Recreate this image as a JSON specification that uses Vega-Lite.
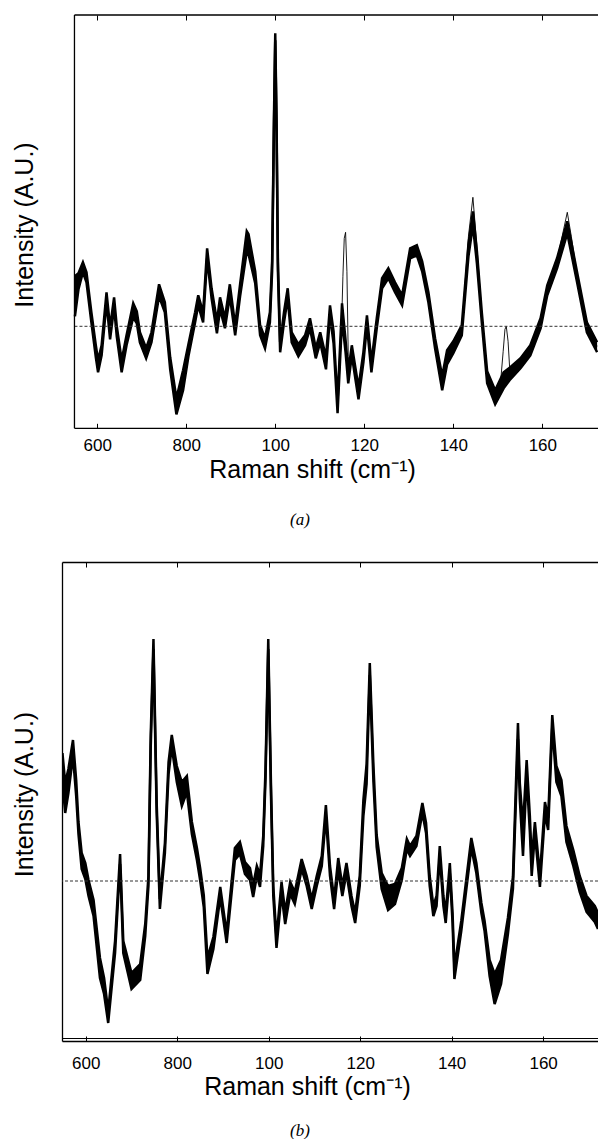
{
  "$schema": "https://vega.github.io/schema/vega-lite/v6.json",
  "padding": {"left": 12, "top": 14, "right": 0, "bottom": 0},
  "background": "white",
  "config": {
    "view": {"stroke": null},
    "axis": {"domainColor": "#000", "tickColor": "#000", "domainWidth": 1.3, "tickWidth": 1, "grid": false,
             "labelFont": "Liberation Sans", "labelFontSize": 17, "labelColor": "#000",
             "titleFont": "Liberation Sans", "titleFontSize": 25, "titleFontWeight": "normal", "titleColor": "#000",
             "labelFlush": false, "labelOverlap": false}
  },
  "datasets": {
    "a_band": [
      {"x":550,"hi":50,"lo":10},{"x":558,"hi":53,"lo":37},{"x":568,"hi":64,"lo":54},{"x":576,"hi":54,"lo":44},
      {"x":587,"hi":14,"lo":4},{"x":597,"hi":-19,"lo":-31},{"x":602,"hi":-34,"lo":-46},{"x":610,"hi":-19,"lo":-29},
      {"x":621,"hi":34,"lo":24},{"x":629,"hi":-1,"lo":-13},{"x":638,"hi":29,"lo":19},{"x":644,"hi":0,"lo":-10},
      {"x":655,"hi":-34,"lo":-46},{"x":666,"hi":-9,"lo":-19},{"x":681,"hi":23,"lo":9},{"x":689,"hi":15,"lo":3},
      {"x":696,"hi":-6,"lo":-16},{"x":710,"hi":-22,"lo":-32},{"x":722,"hi":-6,"lo":-16},{"x":739,"hi":42,"lo":30},
      {"x":752,"hi":24,"lo":14},{"x":764,"hi":-31,"lo":-43},{"x":778,"hi":-72,"lo":-88},{"x":793,"hi":-44,"lo":-64},
      {"x":805,"hi":-18,"lo":-30},{"x":820,"hi":14,"lo":4},{"x":827,"hi":31,"lo":21},{"x":838,"hi":14,"lo":4},
      {"x":847,"hi":78,"lo":68},{"x":857,"hi":38,"lo":28},{"x":869,"hi":5,"lo":-7},{"x":876,"hi":29,"lo":17},
      {"x":887,"hi":8,"lo":-2},{"x":898,"hi":42,"lo":30},{"x":910,"hi":1,"lo":-9},{"x":921,"hi":42,"lo":30},
      {"x":936,"hi":95,"lo":75},{"x":940,"hi":92,"lo":72},{"x":955,"hi":55,"lo":43},{"x":966,"hi":1,"lo":-9},
      {"x":977,"hi":-12,"lo":-22},{"x":988,"hi":14,"lo":4},{"x":993,"hi":65,"lo":55},{"x":997,"hi":205,"lo":195},
      {"x":1000,"hi":293,"lo":286},{"x":1003,"hi":205,"lo":195},{"x":1006,"hi":65,"lo":55},{"x":1011,"hi":-16,"lo":-26},
      {"x":1020,"hi":15,"lo":5},{"x":1028,"hi":38,"lo":28},{"x":1037,"hi":-6,"lo":-16},{"x":1052,"hi":-18,"lo":-30},
      {"x":1067,"hi":-9,"lo":-19},{"x":1078,"hi":8,"lo":-2},{"x":1091,"hi":-22,"lo":-32},{"x":1101,"hi":-6,"lo":-16},
      {"x":1114,"hi":-31,"lo":-43},{"x":1123,"hi":21,"lo":11},{"x":1131,"hi":-5,"lo":-17},{"x":1140,"hi":-75,"lo":-87},
      {"x":1150,"hi":23,"lo":7},{"x":1158,"hi":-14,"lo":-26},{"x":1164,"hi":-45,"lo":-57},{"x":1172,"hi":-19,"lo":-29},
      {"x":1187,"hi":-61,"lo":-73},{"x":1198,"hi":-26,"lo":-36},{"x":1206,"hi":11,"lo":1},{"x":1216,"hi":-36,"lo":-46},
      {"x":1228,"hi":8,"lo":-2},{"x":1240,"hi":48,"lo":38},{"x":1254,"hi":58,"lo":48},{"x":1269,"hi":44,"lo":34},
      {"x":1285,"hi":31,"lo":21},{"x":1303,"hi":78,"lo":68},{"x":1318,"hi":81,"lo":71},{"x":1330,"hi":65,"lo":55},
      {"x":1344,"hi":34,"lo":24},{"x":1359,"hi":-12,"lo":-22},{"x":1375,"hi":-50,"lo":-64},{"x":1386,"hi":-24,"lo":-38},
      {"x":1400,"hi":-15,"lo":-27},{"x":1419,"hi":1,"lo":-9},{"x":1434,"hi":82,"lo":70},{"x":1444,"hi":115,"lo":101},
      {"x":1453,"hi":75,"lo":63},{"x":1464,"hi":14,"lo":4},{"x":1476,"hi":-45,"lo":-57},{"x":1494,"hi":-64,"lo":-78},
      {"x":1513,"hi":-46,"lo":-62},{"x":1528,"hi":-41,"lo":-53},{"x":1551,"hi":-32,"lo":-42},{"x":1573,"hi":-19,"lo":-29},
      {"x":1596,"hi":8,"lo":-2},{"x":1611,"hi":41,"lo":31},{"x":1633,"hi":68,"lo":58},{"x":1656,"hi":105,"lo":93},
      {"x":1678,"hi":54,"lo":44},{"x":1700,"hi":4,"lo":-6},{"x":1723,"hi":-16,"lo":-26}
    ],
    "a_out": [
      {"x":1090,"v":-27},{"x":1100,"v":-11},{"x":1114,"v":-37},{"x":1123,"v":16},{"x":1131,"v":-11},{"x":1140,"v":-80},
      {"x":1148,"v":-15},{"x":1152,"v":50},{"x":1155,"v":88},{"x":1158,"v":94},{"x":1161,"v":55},{"x":1164,"v":-30},
      {"x":1168,"v":-45},{"x":1172,"v":-24},{"x":1187,"v":-67},{"x":1198,"v":-31},{"x":1206,"v":6},{"x":1216,"v":-41},
      {"x":1228,"v":3},{"x":1240,"v":46},{"x":1254,"v":56},{"x":1269,"v":42},{"x":1285,"v":28},{"x":1303,"v":76},
      {"x":1318,"v":79},{"x":1330,"v":62},{"x":1344,"v":30},{"x":1359,"v":-15},{"x":1375,"v":-55},{"x":1386,"v":-28},
      {"x":1400,"v":-18},{"x":1419,"v":-2},{"x":1434,"v":90},{"x":1444,"v":129},{"x":1453,"v":80},{"x":1464,"v":12},
      {"x":1476,"v":-50},{"x":1494,"v":-70},{"x":1505,"v":-62},{"x":1512,"v":-25},{"x":1516,"v":-3},{"x":1519,"v":0},
      {"x":1523,"v":-15},{"x":1527,"v":-45},{"x":1535,"v":-45},{"x":1551,"v":-35},{"x":1573,"v":-22},{"x":1596,"v":5},
      {"x":1611,"v":38},{"x":1633,"v":66},{"x":1656,"v":114},{"x":1665,"v":90},{"x":1678,"v":52},{"x":1700,"v":0},{"x":1723,"v":-20}
    ],
    "b_band": [
      {"x":549,"hi":128,"lo":98},{"x":555,"hi":98,"lo":68},{"x":562,"hi":112,"lo":88},{"x":572,"hi":141,"lo":125},
      {"x":579,"hi":101,"lo":85},{"x":584,"hi":59,"lo":47},{"x":591,"hi":28,"lo":12},{"x":599,"hi":18,"lo":2},
      {"x":606,"hi":1,"lo":-15},{"x":617,"hi":-19,"lo":-35},{"x":631,"hi":-77,"lo":-97},{"x":640,"hi":-97,"lo":-113},
      {"x":649,"hi":-130,"lo":-142},{"x":664,"hi":-60,"lo":-72},{"x":675,"hi":27,"lo":17},{"x":682,"hi":-60,"lo":-72},
      {"x":700,"hi":-92,"lo":-108},{"x":719,"hi":-83,"lo":-99},{"x":730,"hi":-43,"lo":-55},{"x":737,"hi":5,"lo":-5},
      {"x":742,"hi":146,"lo":134},{"x":748,"hi":242,"lo":232},{"x":755,"hi":78,"lo":68},{"x":762,"hi":-18,"lo":-28},
      {"x":773,"hi":38,"lo":28},{"x":781,"hi":119,"lo":107},{"x":788,"hi":146,"lo":134},{"x":799,"hi":115,"lo":99},
      {"x":810,"hi":99,"lo":75},{"x":821,"hi":105,"lo":89},{"x":832,"hi":59,"lo":47},{"x":843,"hi":33,"lo":21},
      {"x":850,"hi":13,"lo":1},{"x":858,"hi":-14,"lo":-26},{"x":866,"hi":-77,"lo":-93},{"x":879,"hi":-56,"lo":-68},
      {"x":894,"hi":-6,"lo":-16},{"x":908,"hi":-52,"lo":-62},{"x":926,"hi":33,"lo":21},{"x":937,"hi":39,"lo":27},
      {"x":948,"hi":19,"lo":7},{"x":959,"hi":13,"lo":1},{"x":966,"hi":-4,"lo":-16},{"x":974,"hi":15,"lo":5},
      {"x":981,"hi":6,"lo":-6},{"x":988,"hi":45,"lo":35},{"x":993,"hi":112,"lo":102},{"x":999,"hi":242,"lo":232},
      {"x":1005,"hi":95,"lo":85},{"x":1010,"hi":-5,"lo":-15},{"x":1017,"hi":-57,"lo":-67},{"x":1028,"hi":-1,"lo":-13},
      {"x":1036,"hi":-31,"lo":-43},{"x":1047,"hi":-1,"lo":-13},{"x":1057,"hi":-11,"lo":-23},{"x":1072,"hi":22,"lo":12},
      {"x":1083,"hi":5,"lo":-5},{"x":1094,"hi":-18,"lo":-28},{"x":1105,"hi":5,"lo":-5},{"x":1116,"hi":25,"lo":15},
      {"x":1125,"hi":76,"lo":64},{"x":1134,"hi":15,"lo":5},{"x":1143,"hi":-18,"lo":-28},{"x":1152,"hi":23,"lo":11},
      {"x":1161,"hi":-5,"lo":-15},{"x":1170,"hi":18,"lo":8},{"x":1181,"hi":-15,"lo":-25},{"x":1189,"hi":-32,"lo":-42},
      {"x":1199,"hi":5,"lo":-5},{"x":1207,"hi":81,"lo":65},{"x":1214,"hi":117,"lo":97},{"x":1221,"hi":218,"lo":206},
      {"x":1229,"hi":115,"lo":99},{"x":1236,"hi":46,"lo":34},{"x":1247,"hi":8,"lo":-8},{"x":1261,"hi":-5,"lo":-29},
      {"x":1276,"hi":-3,"lo":-23},{"x":1291,"hi":13,"lo":1},{"x":1302,"hi":42,"lo":32},{"x":1309,"hi":35,"lo":25},
      {"x":1323,"hi":45,"lo":35},{"x":1336,"hi":78,"lo":68},{"x":1344,"hi":58,"lo":48},{"x":1352,"hi":5,"lo":-5},
      {"x":1360,"hi":-25,"lo":-35},{"x":1367,"hi":-15,"lo":-25},{"x":1374,"hi":35,"lo":25},{"x":1382,"hi":-15,"lo":-25},
      {"x":1387,"hi":-32,"lo":-42},{"x":1396,"hi":18,"lo":8},{"x":1402,"hi":-32,"lo":-42},{"x":1406,"hi":-86,"lo":-98},
      {"x":1421,"hi":-40,"lo":-50},{"x":1443,"hi":43,"lo":33},{"x":1454,"hi":18,"lo":8},{"x":1465,"hi":-22,"lo":-32},
      {"x":1472,"hi":-40,"lo":-50},{"x":1483,"hi":-79,"lo":-95},{"x":1494,"hi":-93,"lo":-123},{"x":1508,"hi":-79,"lo":-103},
      {"x":1523,"hi":-37,"lo":-53},{"x":1534,"hi":4,"lo":-8},{"x":1541,"hi":103,"lo":87},{"x":1545,"hi":158,"lo":142},
      {"x":1549,"hi":98,"lo":82},{"x":1556,"hi":55,"lo":25},{"x":1564,"hi":121,"lo":105},{"x":1571,"hi":65,"lo":49},
      {"x":1575,"hi":21,"lo":5},{"x":1582,"hi":59,"lo":47},{"x":1593,"hi":6,"lo":-6},{"x":1604,"hi":79,"lo":67},
      {"x":1611,"hi":63,"lo":51},{"x":1620,"hi":166,"lo":154},{"x":1629,"hi":115,"lo":99},{"x":1640,"hi":101,"lo":85},
      {"x":1651,"hi":55,"lo":39},{"x":1666,"hi":31,"lo":15},{"x":1680,"hi":5,"lo":-11},{"x":1695,"hi":-15,"lo":-31},
      {"x":1713,"hi":-25,"lo":-41},{"x":1720,"hi":-32,"lo":-48}
    ]
  },
  "concat": [
    {
      "width": 536,
      "height": 413.3,
      "title": {"text": "(a)", "orient": "bottom", "anchor": "middle", "frame": "group", "dx": -30, "offset": 30,
                "font": "Liberation Serif", "fontStyle": "italic", "fontWeight": "normal", "fontSize": 17, "color": "#000"},
      "resolve": {"axis": {"x": "independent"}},
      "layer": [
        {
          "data": {"name": "a_band"},
          "mark": {"type": "area", "color": "#000", "opacity": 1, "clip": true},
          "encoding": {
            "x": {"field": "x", "type": "quantitative", "scale": {"domain": [521, 1725], "nice": false, "zero": false},
                  "axis": {"orient": "bottom", "values": [600, 800, 1000, 1200, 1400, 1600], "tickSize": -5, "domain": false,
                           "labelPadding": 14, "labelExpr": "substring(toString(datum.value), 0, 3)",
                           "title": "Raman shift (cm⁻¹)", "titleX": 250, "titleY": 49, "titleBaseline": "alphabetic"}},
            "y": {"field": "hi", "type": "quantitative", "scale": {"domain": [-102, 311.3], "nice": false, "zero": false},
                  "axis": {"ticks": false, "labels": false, "domain": false, "title": "Intensity (A.U.)", "titlePadding": 25, "titleY": 209.5}},
            "y2": {"field": "lo"}
          }
        },
        {
          "data": {"name": "a_band"},
          "mark": {"type": "line", "color": "#000", "strokeWidth": 2.5, "clip": true},
          "encoding": {
            "x": {"field": "x", "type": "quantitative", "scale": {"domain": [521, 1725], "nice": false, "zero": false},
                  "axis": {"orient": "top", "values": [600, 800, 1000, 1200, 1400, 1600], "tickSize": -5, "domain": false, "labels": false, "title": null}},
            "y": {"field": "hi", "type": "quantitative"}
          }
        },
        {
          "data": {"name": "a_band"},
          "mark": {"type": "line", "color": "#000", "strokeWidth": 2.5, "clip": true},
          "encoding": {
            "x": {"field": "x", "type": "quantitative", "axis": null},
            "y": {"field": "lo", "type": "quantitative"}
          }
        },
        {
          "data": {"name": "a_out"},
          "mark": {"type": "line", "color": "#000", "strokeWidth": 0.9, "clip": true},
          "encoding": {
            "x": {"field": "x", "type": "quantitative", "axis": null},
            "y": {"field": "v", "type": "quantitative"}
          }
        },
        {
          "data": {"values": [{}]},
          "mark": {"type": "rule", "color": "#333", "strokeWidth": 1, "strokeDash": [3, 2]},
          "encoding": {"x": {"datum": 549, "type": "quantitative", "axis": null}, "x2": {"datum": 1725},
                       "y": {"datum": 0, "type": "quantitative"}}
        },
        {
          "data": {"values": [{}]},
          "mark": {"type": "rule", "color": "#000", "strokeWidth": 1.3},
          "encoding": {"x": {"datum": 549, "type": "quantitative", "axis": null}}
        },
        {
          "data": {"values": [{}]},
          "mark": {"type": "rule", "color": "#000", "strokeWidth": 1.3},
          "encoding": {"x": {"datum": 549, "type": "quantitative", "axis": null}, "x2": {"datum": 1725},
                       "y": {"datum": 311.3, "type": "quantitative"}}
        },
        {
          "data": {"values": [{}]},
          "mark": {"type": "rule", "color": "#000", "strokeWidth": 1.3},
          "encoding": {"x": {"datum": 549, "type": "quantitative", "axis": null}, "x2": {"datum": 1725},
                       "y": {"datum": -102, "type": "quantitative"}}
        }
      ]
    },
    {
      "width": 536,
      "height": 479,
      "title": {"text": "(b)", "orient": "bottom", "anchor": "middle", "frame": "group", "dx": -30, "offset": 24,
                "font": "Liberation Serif", "fontStyle": "italic", "fontWeight": "normal", "fontSize": 17, "color": "#000"},
      "resolve": {"axis": {"x": "independent"}},
      "layer": [
        {
          "data": {"name": "b_band"},
          "mark": {"type": "area", "color": "#000", "opacity": 1, "clip": true},
          "encoding": {
            "x": {"field": "x", "type": "quantitative", "scale": {"domain": [548, 1720], "nice": false, "zero": false},
                  "axis": {"orient": "bottom", "values": [600, 800, 1000, 1200, 1400, 1600], "tickSize": -5,
                           "labelPadding": 19, "labelExpr": "substring(toString(datum.value), 0, 3)",
                           "title": "Raman shift (cm⁻¹)", "titleX": 245, "titleY": 53, "titleBaseline": "alphabetic"}},
            "y": {"field": "hi", "type": "quantitative", "scale": {"domain": [-160, 319], "nice": false, "zero": false},
                  "axis": {"ticks": false, "labels": false, "title": "Intensity (A.U.)", "titlePadding": 25, "titleY": 232}},
            "y2": {"field": "lo"}
          }
        },
        {
          "data": {"name": "b_band"},
          "mark": {"type": "line", "color": "#000", "strokeWidth": 2.5, "clip": true},
          "encoding": {
            "x": {"field": "x", "type": "quantitative", "scale": {"domain": [548, 1720], "nice": false, "zero": false},
                  "axis": {"orient": "top", "values": [600, 800, 1000, 1200, 1400, 1600], "tickSize": -5, "labels": false, "title": null}},
            "y": {"field": "hi", "type": "quantitative"}
          }
        },
        {
          "data": {"name": "b_band"},
          "mark": {"type": "line", "color": "#000", "strokeWidth": 2.5, "clip": true},
          "encoding": {
            "x": {"field": "x", "type": "quantitative", "axis": null},
            "y": {"field": "lo", "type": "quantitative"}
          }
        },
        {
          "data": {"values": [{}]},
          "mark": {"type": "rule", "color": "#333", "strokeWidth": 1, "strokeDash": [3, 2]},
          "encoding": {"y": {"datum": 0, "type": "quantitative"}}
        },
        {
          "data": {"values": [{}]},
          "mark": {"type": "rule", "color": "#000", "strokeWidth": 1},
          "encoding": {"y": {"datum": -157.5, "type": "quantitative"}}
        }
      ]
    }
  ],
  "columns": 1,
  "spacing": 32
}
